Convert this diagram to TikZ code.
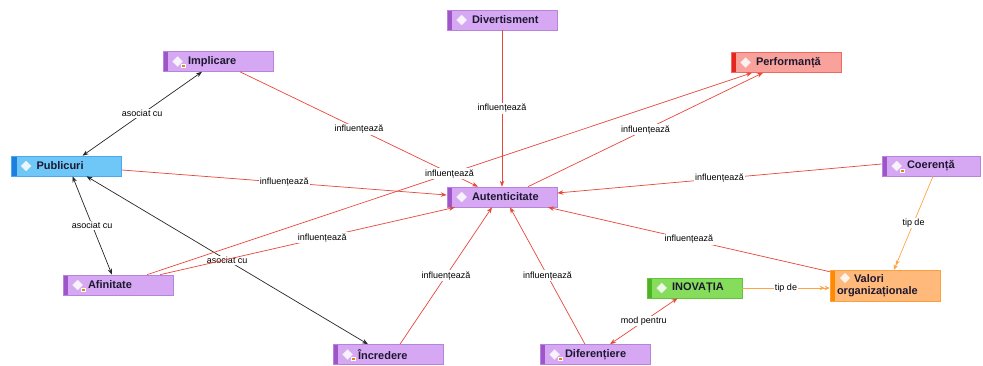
\documentclass[tikz,border=0pt]{standalone}
\usepackage{fontspec}
\setsansfont{Liberation Sans}
\usetikzlibrary{arrows.meta,calc}
\definecolor{pfill}{HTML}{D6A8F3}
\definecolor{pbar}{HTML}{9E55C9}
\definecolor{pline}{HTML}{B883DB}
\definecolor{bfill}{HTML}{6FC7F7}
\definecolor{bbar}{HTML}{1F7FE0}
\definecolor{bline}{HTML}{4AA8EC}
\definecolor{rfill}{HTML}{F8A29B}
\definecolor{rbar}{HTML}{E5261F}
\definecolor{rline}{HTML}{EE6A60}
\definecolor{gfill}{HTML}{86DD5C}
\definecolor{gbar}{HTML}{4DB322}
\definecolor{gline}{HTML}{62C43A}
\definecolor{ofill}{HTML}{FFB97A}
\definecolor{obar}{HTML}{FF8A00}
\definecolor{oline}{HTML}{FF9E3D}
\definecolor{txt}{HTML}{1C1830}
\definecolor{redc}{HTML}{E8473B}
\definecolor{blkc}{HTML}{262626}
\definecolor{orc}{HTML}{FFA445}
\begin{document}
\begin{tikzpicture}[x=1pt,y=-1pt,
  base/.style={rectangle, minimum width=110pt, minimum height=20pt, inner xsep=5pt, inner ysep=2pt,
    text width=100pt, align=left, font=\sffamily\bfseries\fontsize{11}{13}\selectfont, text=txt, line width=0.6pt},
  lbar/.style={path picture={\fill[#1] (path picture bounding box.north west) rectangle ([xshift=5pt]path picture bounding box.south west);}},
  pbox/.style={base, fill=pfill, draw=pline, lbar=pbar},
  bbox/.style={base, fill=bfill, draw=bline, lbar=bbar},
  rbox/.style={base, fill=rfill, draw=rline, lbar=rbar},
  gbox/.style={base, fill=gfill, draw=gline, lbar=gbar},
  obox/.style={base, fill=ofill, draw=oline, lbar=obar},
  lab/.style={font=\sffamily\fontsize{9}{10}\selectfont, fill=white, inner sep=1pt, text=black},
  inf/.style={draw=redc, line width=0.7pt, -{Stealth[length=6pt,width=4.5pt]}},
  assoc/.style={draw=blkc, line width=0.7pt, {Stealth[length=6pt,width=4.5pt]}-{Stealth[length=6pt,width=4.5pt]}},
  modp/.style={draw=redc, line width=0.7pt, {Stealth[length=6pt,width=4.5pt]}-{Stealth[length=6pt,width=4.5pt]}},
  tipd/.style={draw=orc, line width=0.7pt, -{Stealth[length=5pt,width=4.5pt]Stealth[length=5pt,width=4.5pt]}},
  dia/.style={fill=white, fill opacity=0.85, draw=white!85!gray, line width=0.3pt},
  badge/.style={fill=orange!70!brown, draw=white, line width=0.3pt}
]
\useasboundingbox (0,0) rectangle (983,365);
\fill[white] (0,0) rectangle (983,365);

% nodes
\node[bbox] (pub) at (66.5,166) {\hspace*{20pt}Publicuri};
\node[pbox] (imp) at (218,61.5) {\hspace*{20pt}Implicare};
\node[pbox] (div) at (502,20) {\hspace*{20pt}Divertisment};
\node[rbox] (perf) at (786,62.5) {\hspace*{20pt}Performanță};
\node[pbox, minimum width=98pt, text width=88pt] (coer) at (931,166) {\hspace*{20pt}Coerență};
\node[pbox] (aut) at (502,197) {\hspace*{20pt}Autenticitate};
\node[pbox] (afi) at (118,285) {\hspace*{20pt}Afinitate};
\node[pbox] (inc) at (388,354.5) {\hspace*{20pt}Încredere};
\node[pbox] (dif) at (595,354.5) {\hspace*{20pt}Diferențiere};
\node[gbox, minimum width=95pt, text width=85pt] (inov) at (694.5,288) {\hspace*{20pt}INOVAȚIA};
\node[obox, minimum width=110pt, minimum height=31pt, text width=96pt, inner xsep=7pt, inner ysep=1pt,
  font=\sffamily\bfseries\fontsize{11}{12}\selectfont] (val) at (885,285.5) {\hspace*{17pt}Valori\\organizaționale};

% icons
\foreach \n in {pub,div,perf,aut,inov}{
  \path[dia] ($(\n.west)+(15,0)$) +(0,-5) -- +(5,0) -- +(0,5) -- +(-5,0) -- cycle;
}
\foreach \n in {imp,coer,afi,inc,dif}{
  \path[dia] ($(\n.west)+(15,0)$) +(0,-5) -- +(5,0) -- +(0,5) -- +(-5,0) -- cycle;
  \path[badge] ($(\n.west)+(18,3)$) rectangle +(4,3);
}
\path[dia] (845,278) +(0,-5) -- +(5,0) -- +(0,5) -- +(-5,0) -- cycle;

% associations
\draw[assoc] ($(pub.north)+(16,0)$) -- node[lab]{asociat cu} ($(imp.south)+(-16,0)$);
\draw[assoc] ($(pub.south)+(6,0)$) -- node[lab]{asociat cu} ($(afi.north)+(-6,0)$);
\draw[assoc] ($(pub.south)+(20,0)$) -- node[lab]{asociat cu} ($(inc.north)+(-20,0)$);

% influences
\draw[inf] ($(pub.east)+(0,4)$) -- node[lab]{influențează} ($(aut.west)+(0,-2)$);
\draw[inf] ($(imp.south)+(22,0)$) -- node[lab]{influențează} ($(aut.north)+(-24,0)$);
\draw[inf] (div.south) -- node[lab]{influențează} (aut.north);
\draw[inf] ($(aut.north)+(26,0)$) -- node[lab]{influențează} ($(perf.south)+(-23,0)$);
\draw[inf] ($(afi.north)+(29,0)$) -- node[lab]{influențează} ($(perf.south)+(-34,0)$);
\draw[inf] ($(afi.north)+(42,0)$) -- node[lab, pos=0.55]{influențează} ($(aut.south)+(-47,0)$);
\draw[inf] ($(coer.west)+(0,-2)$) -- node[lab]{influențează} ($(aut.east)+(0,-4)$);
\draw[inf] ($(val.north west)+(0,2)$) -- node[lab]{influențează} ($(aut.south)+(46,0)$);
\draw[inf] ($(inc.north)+(12,0)$) -- node[lab]{influențează} ($(aut.south)+(-10,0)$);
\draw[inf] ($(dif.north)+(-10,0)$) -- node[lab]{influențează} ($(aut.south)+(8,0)$);

% other relations
\draw[modp] ($(dif.north)+(15,0)$) -- node[lab]{mod pentru} ($(inov.south)+(-17,0)$);
\draw[tipd] (inov.east) -- node[lab]{tip de} (inov.east -| val.west);
\draw[tipd] ($(coer.south)+(2,0)$) -- node[lab]{tip de} ($(val.north)+(9,0)$);
\end{tikzpicture}
\end{document}
